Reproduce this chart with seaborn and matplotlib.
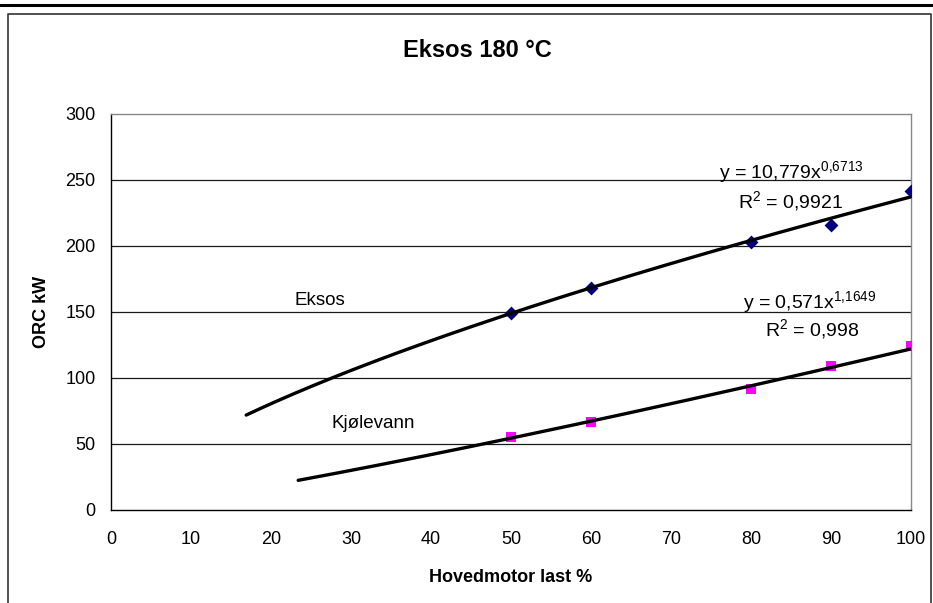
import numpy as np
import pandas as pd
import matplotlib
matplotlib.use("Agg")
import matplotlib.pyplot as plt
from matplotlib.lines import Line2D
import seaborn as sns

# data
last = [50, 60, 80, 90, 100]
eksos = [149, 168, 203, 216, 242]
kjolevann = [55, 67, 92, 109, 124]

# power trendlines as printed on the chart (y = a * x^b)
eksos_coef = (10.779, 0.6713)
kjol_coef = (0.571, 1.1649)
eksos_r2 = "0,9921"
kjol_r2 = "0,998"
eksos_start = 16.9
kjol_start = 23.4

xticks = list(range(0, 101, 10))
yticks = list(range(0, 301, 50))

sns.set_style("white")
plt.rcParams['font.family'] = ['Liberation Sans', 'DejaVu Sans']
plt.rcParams['mathtext.fontset'] = 'custom'
plt.rcParams['mathtext.rm'] = 'Liberation Sans'
plt.rcParams['mathtext.it'] = 'Liberation Sans:italic'
plt.rcParams['mathtext.bf'] = 'Liberation Sans:bold'
plt.rcParams['text.color'] = 'black'
plt.rcParams['axes.labelcolor'] = 'black'
plt.rcParams['xtick.color'] = 'black'
plt.rcParams['ytick.color'] = 'black'

W, H = 933, 603
fig = plt.figure(figsize=(W / 100, H / 100), dpi=100)
ax = fig.add_axes([111 / W, 1 - 510 / H, 800 / W, 396 / H])


def trend(coef, start):
    x = np.linspace(start, 100, 300)
    return pd.DataFrame({'x': x, 'y': coef[0] * x ** coef[1]})


# grid lines (inner ones only, the top edge is the grey plot border)
for v in yticks[1:-1]:
    ax.axhline(v, color='#1a1a1a', lw=0.9, zorder=1)

sns.scatterplot(x=last, y=eksos, marker='D', s=50, color='#000080',
                edgecolor='#000080', linewidth=0, ax=ax, zorder=3)
sns.scatterplot(x=last, y=kjolevann, marker='s', s=45, color='#FF00FF',
                edgecolor='#FF00FF', linewidth=0, ax=ax, zorder=3)

t1 = trend(eksos_coef, eksos_start)
t2 = trend(kjol_coef, kjol_start)
sns.lineplot(data=t1, x='x', y='y', color='black', lw=2.4, ax=ax, zorder=4)
sns.lineplot(data=t2, x='x', y='y', color='black', lw=2.4, ax=ax, zorder=4)

ax.set_xlim(0, 100)
ax.set_ylim(0, 300)
ax.set_xticks(xticks)
ax.set_yticks(yticks)
ax.tick_params(axis='both', direction='out', length=4, width=1, color='black',
               labelsize=13, labelcolor='black')
ax.tick_params(axis='x', pad=11)
ax.tick_params(axis='y', pad=7)

for s in ['left', 'bottom']:
    ax.spines[s].set_color('black')
    ax.spines[s].set_linewidth(1.0)
for s in ['top', 'right']:
    ax.spines[s].set_color('#888888')
    ax.spines[s].set_linewidth(1.0)

ax.set_xlabel('Hovedmotor last %', fontsize=13, fontweight='bold')
ax.set_ylabel('ORC kW', fontsize=13, fontweight='bold')
ax.xaxis.set_label_coords(0.5, (510 - 577) / 396)
ax.xaxis.label.set_va('center')
ax.yaxis.set_label_coords((42 - 111) / 800, 0.5)
ax.yaxis.label.set_va('center')

# trendline labels
ax.text(85.0, 251.5, r"y = 10,779x$^{0{,}6713}$", fontsize=14,
        ha='center', va='baseline')
ax.text(84.9, 228.8, r"R$^{2}$ = " + eksos_r2, fontsize=14,
        ha='center', va='baseline')
ax.text(87.4, 153.0, r"y = 0,571x$^{1{,}1649}$", fontsize=14,
        ha='center', va='baseline')
ax.text(87.6, 131.8, r"R$^{2}$ = " + kjol_r2, fontsize=14,
        ha='center', va='baseline')

ax.text(26.1, 155.3, 'Eksos', fontsize=13.5, ha='center', va='baseline')
ax.text(32.8, 61.9, 'Kjølevann', fontsize=13.5, ha='center', va='baseline')

fig.text(477 / W, 1 - 57.3 / H, 'Eksos 180 °C', fontsize=17, fontweight='bold',
         ha='center', va='baseline')

# chart frame like the screenshot
fig.add_artist(Line2D([0, 1], [1 - 5 / H, 1 - 5 / H], color='black', lw=2.2,
                      transform=fig.transFigure))
fig.add_artist(Line2D([8 / W, 8 / W, 931 / W, 931 / W],
                      [0, 1 - 14 / H, 1 - 14 / H, 0], color='#333333', lw=1.2,
                      transform=fig.transFigure))

fig.savefig('out.png', dpi=100)
